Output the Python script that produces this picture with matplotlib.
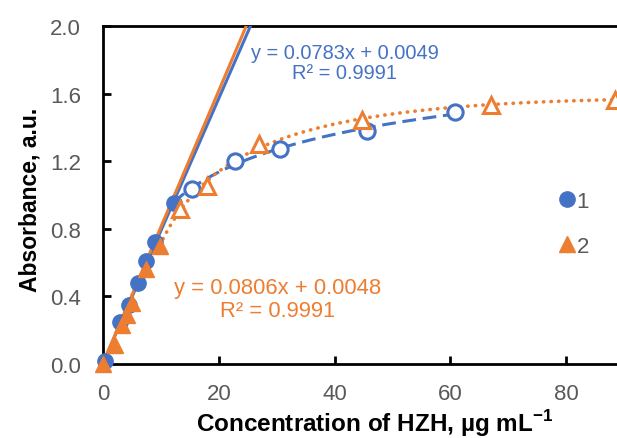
import numpy as np
import matplotlib.pyplot as plt
from matplotlib.lines import Line2D

plt.rcParams['font.family'] = ['Liberation Sans', 'DejaVu Sans']
plt.rcParams['mathtext.fontset'] = 'custom'
plt.rcParams['mathtext.rm'] = 'Liberation Sans'
plt.rcParams['mathtext.bf'] = 'Liberation Sans:bold'

BLUE = '#4472C4'
ORANGE = '#ED7D31'
GRAY = '#595959'

# Series 1: linear range (filled) and saturation range (open)
x1_lin = [0.3, 3.0, 4.5, 6.0, 7.5, 9.0, 12.2]
y1_lin = [0.02, 0.25, 0.35, 0.48, 0.61, 0.72, 0.955]
x1_sat = [15.3, 22.8, 30.5, 45.7, 60.8]
y1_sat = [1.035, 1.20, 1.27, 1.38, 1.49]

# Series 2: linear range (filled) and saturation range (open)
x2_lin = [0.0, 2.0, 3.2, 4.1, 5.0, 7.5, 9.8]
y2_lin = [0.0, 0.11, 0.23, 0.29, 0.36, 0.56, 0.70]
x2_sat = [13.3, 17.9, 27.0, 44.8, 67.0, 88.5]
y2_sat = [0.917, 1.055, 1.30, 1.446, 1.534, 1.565]

# Linear calibration fits
k1, b1 = 0.0783, 0.0049
k2, b2 = 0.0806, 0.0048

x_ticks = [0, 20, 40, 60, 80]
y_ticks = [0.0, 0.4, 0.8, 1.2, 1.6, 2.0]

fig = plt.figure(figsize=(6.17, 4.39), dpi=100)
ax = fig.add_axes([103 / 617, 74 / 439, 578.75 / 617, 338 / 439])
ax.set_xlim(0, 100)
ax.set_ylim(0, 2.0)

# Straight calibration lines up to the top of the plot
xl = np.linspace(0, 30, 50)
ax.plot(xl, k1 * xl + b1, color=BLUE, lw=2.2, zorder=3)
ax.plot(xl, k2 * xl + b2, color=ORANGE, lw=2.2, zorder=3)

# Saturation trend curves (quadratic in ln x)
xs1 = np.array([x1_lin[-1]] + x1_sat)
ys1 = np.array([y1_lin[-1]] + y1_sat)
p1 = np.polyfit(np.log(xs1), ys1, 2)
xc1 = np.linspace(xs1.min(), xs1.max(), 200)
ax.plot(xc1, np.polyval(p1, np.log(xc1)), color=BLUE, lw=2.2,
        ls=(0, (4.5, 2.2)), zorder=2)

xs2 = np.array([x2_lin[-1]] + x2_sat)
ys2 = np.array([y2_lin[-1]] + y2_sat)
p2 = np.polyfit(np.log(xs2), ys2, 2)
xc2 = np.linspace(xs2.min(), 92, 300)
ax.plot(xc2, np.polyval(p2, np.log(xc2)), color=ORANGE, lw=2.6,
        ls=(0, (0.1, 2.0)), dash_capstyle='round', zorder=2)

# Data points
ms = 11
ax.plot(x1_lin, y1_lin, 'o', color=BLUE, ms=ms, mec=BLUE, zorder=4, clip_on=False)
ax.plot(x2_lin, y2_lin, '^', color=ORANGE, ms=ms, mec=ORANGE, zorder=5, clip_on=False)
ax.plot(x1_sat, y1_sat, 'o', mfc='white', mec=BLUE, mew=2.2, ms=ms, zorder=4, clip_on=False)
ax.plot(x2_sat, y2_sat, '^', mfc='white', mec=ORANGE, mew=2.2, ms=ms, zorder=5, clip_on=False)

# Axes styling
for side in ['left', 'bottom', 'top']:
    ax.spines[side].set_linewidth(2.0)
    ax.spines[side].set_color('black')
ax.spines['right'].set_visible(False)
ax.set_xticks(x_ticks)
ax.set_yticks(y_ticks)
ax.set_yticklabels([f'{v:.1f}' for v in y_ticks])
ax.tick_params(direction='in', length=6, width=2, colors='black',
               labelcolor=GRAY, labelsize=16)
ax.tick_params(axis='y', pad=16)
ax.tick_params(axis='x', pad=14)

# Equations
ax.text(41.8, 1.784, 'y = 0.0783x + 0.0049\nR² = 0.9991', color=BLUE,
        fontsize=14.4, ha='center', va='center', linespacing=1.12)
ax.text(30.1, 0.385, 'y = 0.0806x + 0.0048\nR² = 0.9991', color=ORANGE,
        fontsize=15.8, ha='center', va='center', linespacing=1.12)

# Legend
handles = [Line2D([], [], marker='o', ls='none', color=BLUE, ms=ms),
           Line2D([], [], marker='^', ls='none', color=ORANGE, ms=ms)]
leg = fig.legend(handles, ['1', '2'], loc='center left',
                 bbox_to_anchor=(560 / 617, 1 - 225 / 439), frameon=False,
                 handlelength=0.6, handletextpad=0.15, labelspacing=1.1,
                 fontsize=16, borderpad=0, borderaxespad=0)
for t in leg.get_texts():
    t.set_color(GRAY)

# Axis titles
fig.text(375 / 617, 1 - 424 / 439, r'Concentration of HZH, µg mL$^{\mathbf{-1}}$',
         fontsize=17.5, fontweight='bold', ha='center', va='center')
fig.text(30 / 617, 1 - 200 / 439, 'Absorbance, a.u.', fontsize=16.5,
         fontweight='bold', rotation=90, ha='center', va='center')

fig.savefig('out.png', dpi=100)
